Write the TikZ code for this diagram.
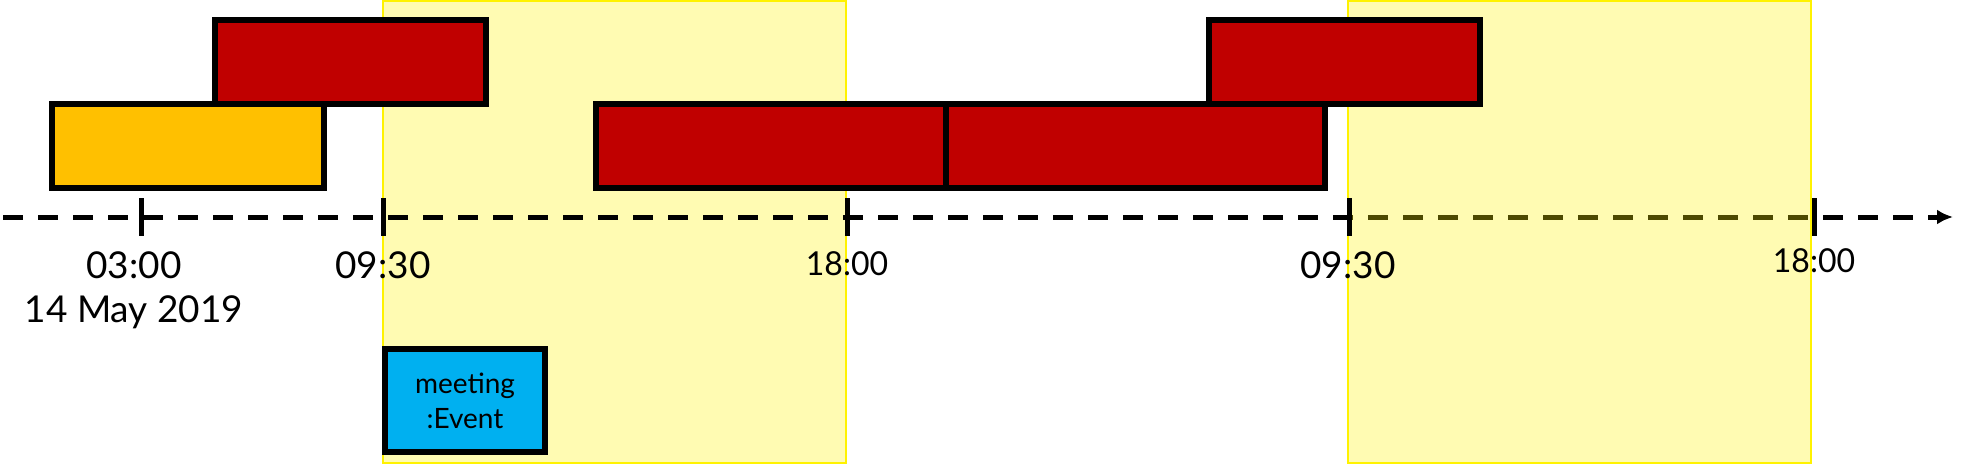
\documentclass[tikz,border=0pt]{standalone}
\usepackage{fontspec}
\setmainfont{Lato}
\usetikzlibrary{arrows.meta}
\definecolor{evorange}{HTML}{FFC000}
\definecolor{evred}{HTML}{C00000}
\definecolor{evblue}{HTML}{00B0F0}
\begin{document}
\begin{tikzpicture}[x=1pt,y=-1pt,
  box/.style={draw=black, line width=6pt, inner sep=0pt, outer sep=0pt, minimum height=84pt, anchor=north west},
  zone/.style={draw=yellow, line width=2pt, fill=yellow, fill opacity=0.3, inner sep=0pt, outer sep=0pt, anchor=north west, minimum width=463pt, minimum height=462pt},
  axisline/.style={line width=5pt, dash pattern=on 20pt off 15pt, -{Latex[length=16pt,width=15pt]}},
  tickmark/.style={line width=5pt},
  lbl/.style={font=\fontsize{37}{44}\selectfont, anchor=base, inner sep=0pt},
  lblb/.style={font=\fontsize{33}{40}\selectfont, anchor=base, inner sep=0pt},
]
\useasboundingbox (0,0) rectangle (1968,464);
% first working-hours zone (behind the axis)
\node[zone] (day1) at (383,1) {};
% axis
\coordinate (axstart) at (3,217);
\coordinate (axend) at (1953,217);
\draw[axisline] (axstart) -- (axend);
% second working-hours zone (over the axis)
\node[zone] (day2) at (1348,1) {};
% event boxes
\node[box, fill=evorange, minimum width=272pt] (e1) at (52,104) {};
\node[box, fill=evred, minimum width=271pt] (e2) at (215,20) {};
\node[box, fill=evred, minimum width=350pt] (e3) at (596,104) {};
\node[box, fill=evred, minimum width=379pt] (e4) at (946,104) {};
\node[box, fill=evred, minimum width=271pt] (e5) at (1209,20) {};
\node[box, fill=evblue, minimum width=160pt, minimum height=103pt, font=\fontsize{28}{35}\selectfont, align=center] (meet) at (385,349) {meeting\\:Event};
% ticks
\foreach \n/\x in {a/141,b/383,c/847,d/1349,e/1814}{
  \coordinate (\n top) at (\x,198);
  \coordinate (\n bot) at (\x,236);
  \draw[tickmark] (\n top) -- (\n bot);
}
% labels
\node[lbl] (l1) at (134,278) {03:00};
\node[lbl] (l1d) at (134,322) {14 May 2019};
\node[lbl] (l2) at (383,278) {09:30};
\node[lblb] (l3) at (847,275) {\scalebox{0.97}[1]{18:00}};
\node[lbl] (l4) at (1348,278) {09:30};
\node[lblb] (l5) at (1814,272) {\scalebox{0.97}[1]{18:00}};
\end{tikzpicture}
\end{document}
